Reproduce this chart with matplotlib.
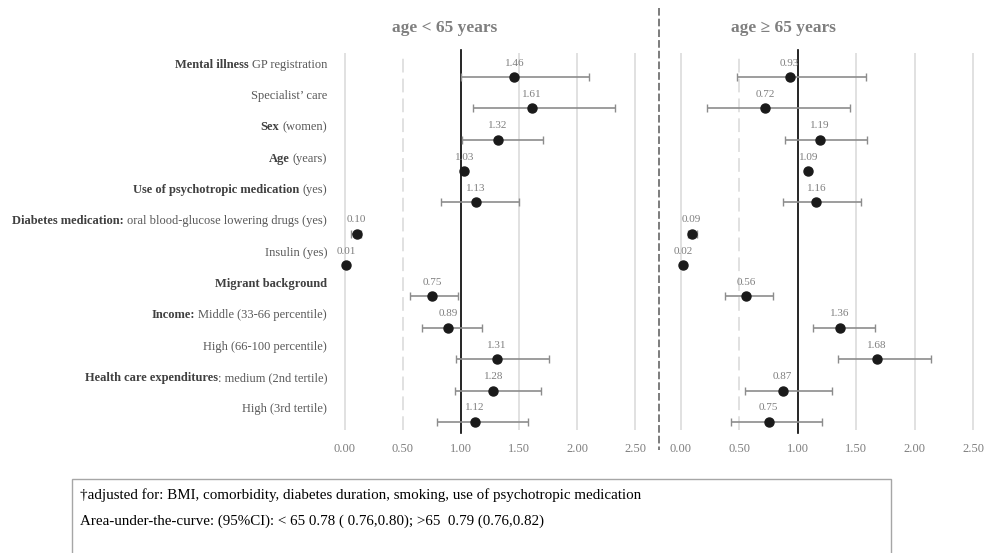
import numpy as np
import matplotlib.pyplot as plt
from matplotlib.patches import Rectangle
from matplotlib.lines import Line2D

plt.rcParams['font.family'] = ['Liberation Serif', 'DejaVu Serif']

# row labels: bold part + plain part
bold_parts = ["Mental illness", "", "Sex", "Age", "Use of psychotropic medication",
              "Diabetes medication:", "", "Migrant background", "Income:", "",
              "Health care expenditures", ""]
plain_parts = ["GP registration", "Specialist\u2019 care", "(women)", "(years)", "(yes)",
               "oral blood-glucose lowering drugs (yes)", "Insulin (yes)", "",
               "Middle (33-66 percentile)", "High (66-100 percentile)",
               ": medium (2nd tertile)", "High (3rd tertile)"]

# odds ratios with 95% CI
or_young = [1.46, 1.61, 1.32, 1.03, 1.13, 0.10, 0.01, 0.75, 0.89, 1.31, 1.28, 1.12]
lo_young = [1.00, 1.10, 1.01, 1.02, 0.83, 0.05, 0.00, 0.56, 0.66, 0.96, 0.95, 0.79]
hi_young = [2.10, 2.33, 1.71, 1.04, 1.50, 0.14, 0.02, 0.97, 1.18, 1.76, 1.69, 1.58]

or_old = [0.93, 0.72, 1.19, 1.09, 1.16, 0.09, 0.02, 0.56, 1.36, 1.68, 0.87, 0.75]
lo_old = [0.48, 0.22, 0.89, 1.08, 0.87, 0.06, 0.01, 0.38, 1.13, 1.34, 0.55, 0.43]
hi_old = [1.58, 1.45, 1.59, 1.10, 1.54, 0.14, 0.03, 0.79, 1.66, 2.14, 1.29, 1.21]

panel_titles = ["age < 65 years", "age \u2265 65 years"]
xticks = [0.0, 0.5, 1.0, 1.5, 2.0, 2.5]
footnote = ["\u2020adjusted for: BMI, comorbidity, diabetes duration, smoking, use of psychotropic medication",
            "Area-under-the-curve: (95%CI): < 65 0.78 ( 0.76,0.80); >65  0.79 (0.76,0.82)"]

W, H = 985, 553
fig = plt.figure(figsize=(W / 100, H / 100), dpi=100)

rows = np.arange(1, len(or_young) + 1)


def make_axes(x0, x25):
    # x0 / x25 = pixel of 0.00 and 2.50
    scale = (x25 - x0) / 2.5
    left = x0 - 0.1 * scale
    top, bottom = 53, 430
    ax = fig.add_axes([left / W, 1 - bottom / H, 2.7 * scale / W, (bottom - top) / H])
    ax.set_xlim(-0.1, 2.6)
    ax.set_ylim(12.26, 0.23)
    return ax


ax1 = make_axes(345, 635)
ax2 = make_axes(681, 973)

for ax, orv, lo, hi in [(ax1, or_young, lo_young, hi_young), (ax2, or_old, lo_old, hi_old)]:
    for t in xticks:
        if t == 0.5:
            ax.axvline(t, color='#d9d9d9', lw=1.1, ls=(0, (9, 4)), zorder=0)
        elif t != 1.0:
            ax.axvline(t, color='#d9d9d9', lw=1.1, zorder=0)
    ax.axvline(1.0, ymin=-0.008, ymax=1.008, color='black', lw=1.2, zorder=1, clip_on=False)
    orv = np.array(orv)
    err = [orv - np.array(lo), np.array(hi) - orv]
    ax.errorbar(orv, rows, xerr=err, fmt='none', ecolor='#8c8c8c', elinewidth=1.2,
                capsize=3, capthick=1.0, zorder=2)
    ax.plot(orv, rows, 'o', color='#1a1a1a', markersize=6.5, zorder=3, clip_on=False)
    for x, y in zip(orv, rows):
        ax.annotate(f"{x:.2f}", (x, y), xytext=(0, 10), textcoords='offset points',
                    ha='center', va='center', fontsize=8, color='#7f7f7f')
    ax.set_xticks(xticks)
    ax.set_xticklabels([f"{t:.2f}" for t in xticks])
    ax.set_yticks([])
    ax.tick_params(axis='x', length=0, pad=9.5, labelsize=9, labelcolor='#7f7f7f')
    for s in ax.spines.values():
        s.set_visible(False)

# row labels, bold part placed left of the plain part
for y, b, p in zip(rows, bold_parts, plain_parts):
    yb = y - 0.30
    if p:
        t = ax1.text(-0.155, yb, p, ha='right', va='baseline', fontsize=9,
                     color='#595959', clip_on=False)
        if b:
            gap = 0 if p.startswith(':') else -2.2
            ax1.annotate(b, xy=(0, yb), xycoords=(t, 'data'), xytext=(gap, 0),
                         textcoords='offset points', ha='right', va='baseline',
                         fontsize=9, fontweight='bold', color='#404040')
    else:
        ax1.text(-0.155, yb, b, ha='right', va='baseline', fontsize=9,
                 fontweight='bold', color='#404040', clip_on=False)

fig.text(444.5 / W, 1 - 28 / H, panel_titles[0], ha='center', va='center',
         fontsize=12.5, fontweight='bold', color='#7f7f7f')
fig.text(783 / W, 1 - 28 / H, panel_titles[1], ha='center', va='center',
         fontsize=12.5, fontweight='bold', color='#7f7f7f')

# dashed separator between the panels
fig.add_artist(Line2D([659 / W, 659 / W], [1 - 8 / H, 1 - 450 / H], color='#595959',
                      lw=1.1, ls=(0, (5, 2)), transform=fig.transFigure))

# footnote box
fig.add_artist(Rectangle((72 / W, 1 - 560 / H), (891 - 72) / W, (560 - 479) / H,
                         transform=fig.transFigure, facecolor='none',
                         edgecolor='#a6a6a6', lw=1.0))
fig.text(80 / W, 1 - 495 / H, footnote[0], ha='left', va='center', fontsize=10.8, color='black')
fig.text(80 / W, 1 - 521.5 / H, footnote[1], ha='left', va='center', fontsize=10.8, color='black')

fig.savefig('out.png', dpi=100)
